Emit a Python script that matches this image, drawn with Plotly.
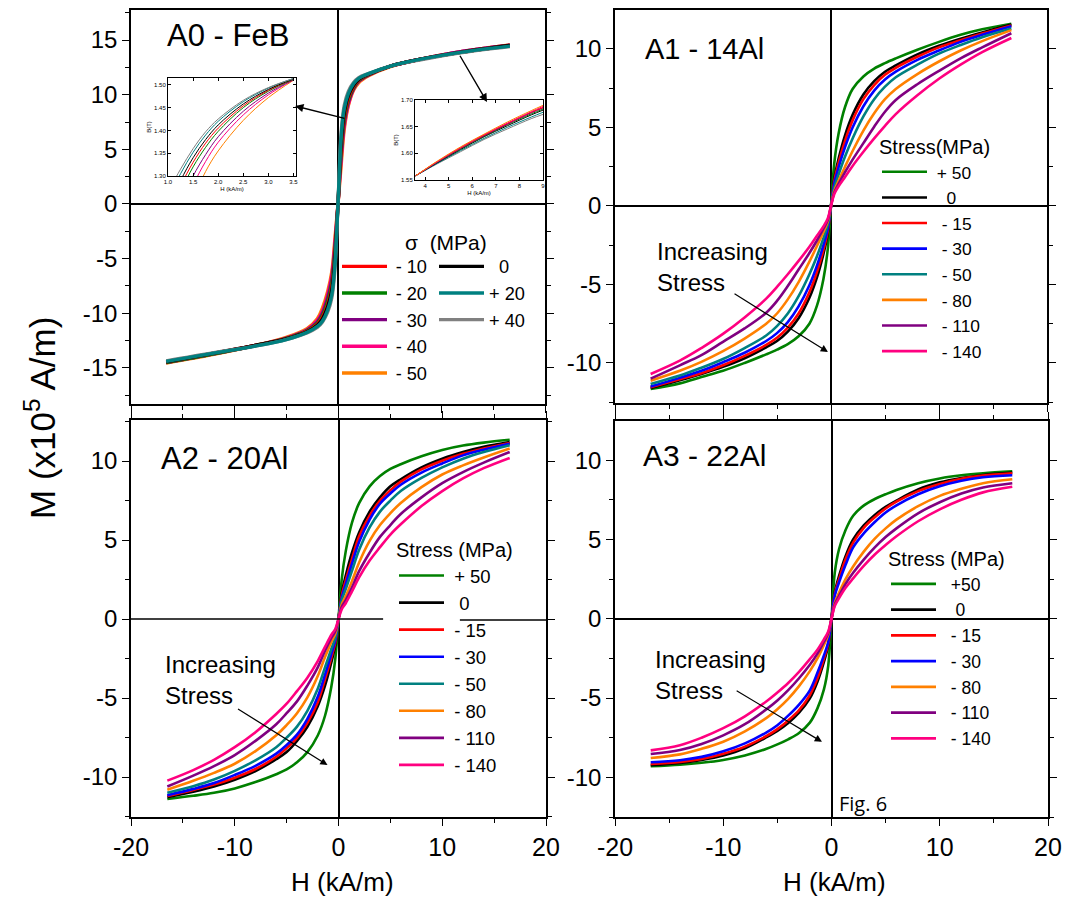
import plotly.graph_objects as go

# page is rendered with the default 8px body margin: the figure is shrunk by that amount
W, HT = 1077, 902
OFF = 8
FW, FH = W - OFF, HT - OFF

# ---------------- colours ----------------
C_GREEN, C_BLACK, C_RED, C_BLUE = "#008000", "#000000", "#ff0000", "#0000ff"
C_TEAL, C_ORANGE, C_PURPLE, C_PINK, C_GRAY = "#008080", "#ff8000", "#800080", "#ff0080", "#808080"

# ---------------- A0 - FeB (sigma in MPa) ----------------
H_A0 = [-16.6, -12, -8, -5, -3, -2, -1.5, -1, -0.6, -0.3, 0, 0.3, 0.6, 1, 1.5, 2, 3, 5, 8, 12, 16.6]
A0_m10 = [-14.45, -13.65, -12.95, -12.35, -11.65, -11.0, -10.35, -9.2, -7.6, -4.8, 0, 5.2, 8.0, 9.7, 10.75, 11.35, 11.88, 12.6, 13.25, 13.9, 14.5]
A0_m20 = [-14.5, -13.7, -12.95, -12.3, -11.6, -10.9, -10.2, -8.9, -7.3, -4.4, 0, 4.8, 7.7, 9.5, 10.65, 11.3, 11.85, 12.6, 13.25, 13.9, 14.5]
A0_m30 = [-14.5, -13.7, -12.95, -12.3, -11.55, -10.8, -10.0, -8.6, -6.9, -4.0, 0, 4.4, 7.4, 9.3, 10.55, 11.25, 11.82, 12.6, 13.25, 13.95, 14.52]
A0_m40 = [-14.52, -13.7, -12.95, -12.25, -11.5, -10.65, -9.8, -8.3, -6.5, -3.6, 0, 4.0, 7.1, 9.1, 10.5, 11.2, 11.8, 12.58, 13.25, 13.95, 14.53]
A0_m50 = [-14.55, -13.75, -12.95, -12.2, -11.4, -10.5, -9.5, -8.0, -6.2, -3.2, 0, 3.5, 6.8, 9.0, 10.4, 11.1, 11.75, 12.55, 13.25, 13.95, 14.55]
A0_0 = [-14.45, -13.65, -12.95, -12.35, -11.7, -11.1, -10.5, -9.4, -7.9, -5.1, 0, 5.6, 8.3, 9.9, 10.85, 11.4, 11.9, 12.6, 13.25, 13.9, 14.5]
A0_p20 = [-14.4, -13.65, -13.0, -12.4, -11.75, -11.2, -10.7, -9.7, -8.3, -5.6, 0, 6.1, 8.7, 10.1, 11.0, 11.5, 11.95, 12.6, 13.25, 13.9, 14.45]
A0_p40 = [-14.35, -13.6, -13.0, -12.4, -11.8, -11.3, -10.8, -9.9, -8.6, -6.0, 0, 6.5, 9.0, 10.3, 11.1, 11.55, 11.95, 12.6, 13.2, 13.85, 14.4]

# inset 1 (B in T vs H in kA/m)
H_IN1 = [1.0, 1.25, 1.5, 1.75, 2.0, 2.5, 3.0, 3.5]
IN1_m10 = [1.215, 1.278, 1.33, 1.372, 1.405, 1.454, 1.488, 1.513]
IN1_m20 = [1.20, 1.265, 1.32, 1.363, 1.398, 1.45, 1.486, 1.512]
IN1_m30 = [1.17, 1.24, 1.30, 1.347, 1.386, 1.442, 1.482, 1.511]
IN1_m40 = [1.14, 1.215, 1.28, 1.332, 1.374, 1.434, 1.478, 1.511]
IN1_m50 = [1.10, 1.18, 1.25, 1.31, 1.355, 1.422, 1.472, 1.51]
IN1_0 = [1.23, 1.29, 1.34, 1.38, 1.412, 1.458, 1.49, 1.513]
IN1_p20 = [1.25, 1.305, 1.352, 1.39, 1.42, 1.463, 1.493, 1.514]
IN1_p40 = [1.265, 1.315, 1.36, 1.397, 1.425, 1.466, 1.494, 1.514]

# inset 2
H_IN2 = [3.6, 4.5, 5.5, 6.5, 7.5, 8.5, 9.0]
IN2_m10 = [1.558, 1.584, 1.610, 1.634, 1.656, 1.677, 1.686]
IN2_m20 = [1.558, 1.583, 1.608, 1.632, 1.654, 1.674, 1.683]
IN2_m30 = [1.558, 1.583, 1.609, 1.633, 1.655, 1.676, 1.685]
IN2_m40 = [1.558, 1.584, 1.611, 1.635, 1.657, 1.678, 1.688]
IN2_m50 = [1.558, 1.585, 1.612, 1.636, 1.659, 1.680, 1.690]
IN2_0 = [1.558, 1.582, 1.607, 1.631, 1.652, 1.672, 1.681]
IN2_p20 = [1.558, 1.581, 1.605, 1.628, 1.649, 1.668, 1.677]
IN2_p40 = [1.558, 1.580, 1.603, 1.626, 1.646, 1.665, 1.673]

# ---------------- A1 - 14Al ----------------
H_A1 = [-16.7, -14, -12, -10, -8, -6, -5, -4, -3, -2, -1.3, -0.7, -0.3, 0,
        0.3, 0.7, 1.3, 2, 3, 4, 5, 6, 8, 10, 12, 14, 16.7]
A1_p50 = [-11.66, -11.3, -10.9, -10.5, -10.0, -9.45, -9.15, -8.8, -8.3, -7.5, -6.35, -4.65, -2.75, 0,
          2.7, 4.6, 6.3, 7.45, 8.25, 8.75, 9.1, 9.4, 9.95, 10.45, 10.9, 11.25, 11.6]
A1_0 = [-11.6, -11.1, -10.7, -10.25, -9.7, -9.0, -8.6, -8.0, -7.15, -5.85, -4.55, -3.05, -1.75, 0,
        1.7, 3.0, 4.5, 5.8, 7.1, 7.95, 8.55, 8.95, 9.65, 10.2, 10.65, 11.05, 11.55]
A1_m15 = [-11.55, -11.03, -10.65, -10.15, -9.55, -8.85, -8.4, -7.75, -6.85, -5.5, -4.2, -2.8, -1.6, 0,
          1.55, 2.75, 4.15, 5.45, 6.8, 7.7, 8.35, 8.8, 9.5, 10.1, 10.55, 10.98, 11.5]
A1_m30 = [-11.5, -10.95, -10.5, -9.95, -9.35, -8.6, -8.1, -7.4, -6.4, -5.05, -3.8, -2.5, -1.45, 0,
          1.4, 2.45, 3.75, 5.0, 6.35, 7.35, 8.05, 8.55, 9.3, 9.9, 10.45, 10.9, 11.45]
A1_m50 = [-11.34, -10.8, -10.3, -9.75, -9.05, -8.25, -7.65, -6.85, -5.75, -4.35, -3.2, -2.05, -1.2, 0,
          1.15, 2.0, 3.15, 4.3, 5.7, 6.8, 7.6, 8.2, 9.0, 9.7, 10.25, 10.75, 11.3]
A1_m80 = [-11.13, -10.5, -9.93, -9.25, -8.45, -7.5, -6.85, -5.95, -4.85, -3.55, -2.55, -1.65, -1.0, 0,
          0.95, 1.6, 2.5, 3.5, 4.8, 5.9, 6.8, 7.45, 8.4, 9.2, 9.9, 10.5, 11.2]
A1_m110 = [-11.0, -10.15, -9.5, -8.65, -7.8, -6.8, -6.05, -5.1, -4.05, -3.0, -2.2, -1.45, -0.9, 0,
           0.85, 1.4, 2.15, 2.95, 4.0, 5.05, 6.0, 6.75, 7.75, 8.6, 9.4, 10.1, 11.0]
A1_m140 = [-10.7, -9.85, -9.05, -8.15, -7.1, -5.9, -5.15, -4.35, -3.5, -2.6, -1.9, -1.3, -0.8, 0,
           0.75, 1.25, 1.85, 2.55, 3.45, 4.3, 5.1, 5.85, 7.05, 8.1, 9.0, 9.8, 10.7]

# ---------------- A2 - 20Al ----------------
H_A2 = [-16.5, -14, -12, -10, -8, -6, -5, -4, -3, -2, -1.3, -0.7, -0.3, 0,
        0.3, 0.7, 1.3, 2, 3, 4, 5, 6, 8, 10, 12, 14, 16.5]
A2_p50 = [-11.39, -11.19, -11.0, -10.72, -10.32, -9.82, -9.52, -9.07, -8.42, -7.37, -6.12, -4.32, -2.47, 0,
          2.45, 4.3, 6.1, 7.35, 8.4, 9.05, 9.5, 9.8, 10.3, 10.7, 10.98, 11.17, 11.35]
A2_0 = [-11.28, -10.93, -10.6, -10.17, -9.62, -8.87, -8.42, -7.72, -6.82, -5.52, -4.22, -2.77, -1.62, 0,
        1.6, 2.75, 4.2, 5.5, 6.8, 7.7, 8.4, 8.85, 9.6, 10.15, 10.57, 10.9, 11.2]
A2_m15 = [-11.2, -10.82, -10.48, -10.04, -9.49, -8.72, -8.17, -7.52, -6.57, -5.27, -3.82, -2.47, -1.47, 0,
          1.45, 2.45, 3.8, 5.25, 6.55, 7.5, 8.15, 8.7, 9.47, 10.02, 10.46, 10.8, 11.15]
A2_m30 = [-11.15, -10.75, -10.38, -9.87, -9.29, -8.52, -7.97, -7.32, -6.32, -4.92, -3.52, -2.22, -1.32, 0,
          1.3, 2.2, 3.5, 4.9, 6.3, 7.3, 7.95, 8.5, 9.27, 9.85, 10.36, 10.72, 11.1]
A2_m50 = [-11.0, -10.58, -10.16, -9.61, -8.94, -8.11, -7.51, -6.81, -5.81, -4.41, -3.06, -1.91, -1.16, 0,
          1.15, 1.9, 3.05, 4.4, 5.8, 6.8, 7.5, 8.1, 8.93, 9.6, 10.15, 10.57, 11.0]
A2_m80 = [-10.8, -10.24, -9.74, -9.16, -8.36, -7.36, -6.71, -5.96, -4.96, -3.61, -2.41, -1.46, -0.91, 0,
          0.9, 1.45, 2.4, 3.6, 4.95, 5.95, 6.7, 7.35, 8.35, 9.15, 9.73, 10.23, 10.8]
A2_m110 = [-10.6, -9.91, -9.31, -8.61, -7.71, -6.66, -5.96, -5.21, -4.21, -3.06, -2.01, -1.21, -0.76, 0,
           0.75, 1.2, 2.0, 3.05, 4.2, 5.2, 5.95, 6.65, 7.7, 8.6, 9.3, 9.9, 10.57]
A2_m140 = [-10.23, -9.56, -8.91, -8.11, -7.16, -6.01, -5.36, -4.56, -3.71, -2.66, -1.76, -1.01, -0.61, 0,
           0.6, 1.0, 1.75, 2.65, 3.7, 4.55, 5.35, 6.0, 7.15, 8.1, 8.9, 9.55, 10.2]

# ---------------- A3 - 22Al ----------------
H_A3 = [-16.7, -14, -12, -10, -8, -6, -5, -4, -3, -2, -1.3, -0.7, -0.3, 0,
        0.3, 0.7, 1.3, 2, 3, 4, 5, 6, 8, 10, 12, 14, 16.7]
A3_p50 = [-9.3, -9.2, -9.08, -8.9, -8.62, -8.2, -7.92, -7.6, -7.2, -6.55, -5.65, -4.45, -2.95, 0,
          2.9, 4.4, 5.6, 6.5, 7.15, 7.55, 7.85, 8.12, 8.55, 8.85, 9.05, 9.18, 9.3]
A3_0 = [-9.24, -9.09, -8.9, -8.62, -8.17, -7.47, -7.07, -6.57, -5.92, -5.02, -3.97, -2.72, -1.67, 0,
        1.65, 2.7, 3.95, 5.0, 5.9, 6.55, 7.05, 7.45, 8.15, 8.6, 8.88, 9.07, 9.22]
A3_m15 = [-9.16, -9.03, -8.84, -8.51, -8.06, -7.39, -6.96, -6.41, -5.76, -4.81, -3.76, -2.51, -1.56, 0,
          1.55, 2.5, 3.75, 4.8, 5.75, 6.4, 6.95, 7.38, 8.05, 8.5, 8.83, 9.03, 9.18]
A3_m30 = [-9.05, -8.92, -8.71, -8.36, -7.86, -7.16, -6.71, -6.11, -5.41, -4.51, -3.41, -2.31, -1.46, 0,
          1.45, 2.3, 3.4, 4.5, 5.4, 6.1, 6.7, 7.15, 7.85, 8.35, 8.7, 8.92, 9.05]
A3_m80 = [-8.78, -8.55, -8.2, -7.75, -7.1, -6.25, -5.7, -5.05, -4.25, -3.3, -2.5, -1.65, -1.0, 0,
          1.0, 1.65, 2.5, 3.3, 4.25, 5.05, 5.7, 6.25, 7.1, 7.75, 8.2, 8.55, 8.8]
A3_m110 = [-8.53, -8.28, -7.9, -7.35, -6.65, -5.7, -5.15, -4.5, -3.75, -2.9, -2.2, -1.45, -0.9, 0,
           0.9, 1.45, 2.2, 2.9, 3.75, 4.5, 5.15, 5.7, 6.65, 7.35, 7.9, 8.28, 8.55]
A3_m140 = [-8.3, -7.97, -7.5, -6.9, -6.15, -5.2, -4.65, -4.05, -3.35, -2.55, -1.95, -1.3, -0.8, 0,
           0.8, 1.3, 1.95, 2.55, 3.35, 4.05, 4.65, 5.2, 6.15, 6.9, 7.5, 7.97, 8.32]

X_TICKS = [-20, -10, 0, 10, 20]
X_TICKTEXT = ["-20", "-10", "0", "10", "20"]
Y_TICKS_A0 = [-15, -10, -5, 0, 5, 10, 15]
Y_TICKTEXT_A0 = ["-15", "-10", "-5", "0", "5", "10", "15"]
Y_TICKS = [-10, -5, 0, 5, 10]
Y_TICKTEXT = ["-10", "-5", "0", "5", "10"]

NB = "\u00a0"

fig = go.Figure()

FONT = "Arial, Liberation Sans, sans-serif"


def add_curve(x, y, color, name, xa, ya, legend=None, width=2.6, rank=None, show=True):
    fig.add_trace(go.Scatter(
        x=x, y=y, mode="lines", name=name,
        line=dict(color=color, width=width, shape="spline", smoothing=1.0),
        xaxis=xa, yaxis=ya, showlegend=show and legend is not None,
        legend=legend if legend else "legend", legendrank=rank if rank else 1000,
        hoverinfo="skip"))


# ---- A0 main curves (drawing order bottom->top) ----
a0 = [
    (A0_m50, C_ORANGE, "\u2009- 50", "legend4", 5),
    (A0_m40, C_PINK, "\u2009- 40", "legend4", 4),
    (A0_m30, C_PURPLE, "\u2009- 30", "legend4", 3),
    (A0_m20, C_GREEN, "\u2009- 20", "legend4", 2),
    (A0_m10, C_RED, "\u2009- 10", "legend4", 1),
    (A0_0, C_BLACK, NB + NB + "0", "legend5", 1),
    (A0_p40, C_GRAY, "+ 40", "legend5", 3),
    (A0_p20, C_TEAL, "+ 20", "legend5", 2),
]
for y, c, n, lg, r in a0:
    add_curve(H_A0, y, c, n, "x", "y", legend=lg, width=3.4, rank=r)

# ---- A0 insets ----
in1 = [(IN1_m50, C_ORANGE), (IN1_m40, C_PINK), (IN1_m30, C_PURPLE), (IN1_m20, C_GREEN),
       (IN1_m10, C_RED), (IN1_0, C_BLACK), (IN1_p20, C_TEAL), (IN1_p40, C_GRAY)]
for y, c in in1:
    add_curve(H_IN1, y, c, "", "x5", "y5", width=1.0, show=False)
in2 = [(IN2_p40, C_GRAY), (IN2_p20, C_TEAL), (IN2_0, C_BLACK), (IN2_m20, C_GREEN),
       (IN2_m30, C_PURPLE), (IN2_m10, C_RED), (IN2_m40, C_PINK), (IN2_m50, C_ORANGE)]
for y, c in in2:
    add_curve(H_IN2, y, c, "", "x6", "y6", width=1.0, show=False)

# ---- A1 ----
for y, c, n in [(A1_p50, C_GREEN, NB + "+ 50"), (A1_0, C_BLACK, NB + NB + NB + "0"),
                (A1_m15, C_RED, NB + NB + "- 15"), (A1_m30, C_BLUE, NB + NB + "- 30"),
                (A1_m50, C_TEAL, NB + NB + "- 50"), (A1_m80, C_ORANGE, NB + NB + "- 80"),
                (A1_m110, C_PURPLE, NB + NB + "- 110"), (A1_m140, C_PINK, NB + NB + "- 140")]:
    add_curve(H_A1, y, c, n, "x2", "y2", legend="legend")

# ---- A2 ----
for y, c, n in [(A2_p50, C_GREEN, NB + "+ 50"), (A2_0, C_BLACK, NB + NB + "0"),
                (A2_m15, C_RED, NB + "- 15"), (A2_m30, C_BLUE, NB + "- 30"),
                (A2_m50, C_TEAL, NB + "- 50"), (A2_m80, C_ORANGE, NB + "- 80"),
                (A2_m110, C_PURPLE, NB + "- 110"), (A2_m140, C_PINK, NB + "- 140")]:
    add_curve(H_A2, y, c, n, "x3", "y3", legend="legend2")

# ---- A3 ----
for y, c, n in [(A3_p50, C_GREEN, NB + NB + "+50"), (A3_0, C_BLACK, NB + NB + NB + "0"),
                (A3_m15, C_RED, NB + NB + "- 15"), (A3_m30, C_BLUE, NB + NB + "- 30"),
                (A3_m80, C_ORANGE, NB + NB + "- 80"),
                (A3_m110, C_PURPLE, NB + NB + "- 110"), (A3_m140, C_PINK, NB + NB + "- 140")]:
    add_curve(H_A3, y, c, n, "x4", "y4", legend="legend3")


def px_x(p):
    return (p - OFF) / FW


def px_y(p):
    return 1 - (p - OFF) / FH


def xax(d0, d1, anchor, labels):
    return dict(domain=[px_x(d0), px_x(d1)], anchor=anchor, range=[-20, 20], automargin=False,
                tickvals=X_TICKS, ticktext=X_TICKTEXT, showticklabels=labels,
                showline=True, linecolor="black", linewidth=1.5, mirror="allticks",
                ticks="outside", ticklen=7, tickwidth=1.3, tickcolor="black",
                minor=dict(dtick=5, ticks="outside", ticklen=4, tickwidth=1.2, tickcolor="black"),
                showgrid=False, zeroline=True, zerolinecolor="black", zerolinewidth=1.6,
                tickfont=dict(family=FONT, size=25, color="black"))


def yax(d0, d1, anchor, rng, vals, texts, zl=True):
    return dict(domain=[px_y(d1), px_y(d0)], anchor=anchor, range=rng, automargin=False,
                tickvals=vals, ticktext=texts,
                showline=True, linecolor="black", linewidth=1.5, mirror="allticks",
                ticks="outside", ticklen=7, tickwidth=1.3, tickcolor="black",
                minor=dict(dtick=2.5, tick0=0, ticks="outside", ticklen=4, tickwidth=1.2, tickcolor="black"),
                showgrid=False, zeroline=zl, zerolinecolor="black", zerolinewidth=1.6,
                tickfont=dict(family=FONT, size=24, color="black"))


def inset_ax(d0, d1, anchor, rng, vals, texts, title, is_y):
    dom = [px_y(d1), px_y(d0)] if is_y else [px_x(d0), px_x(d1)]
    return dict(domain=dom, anchor=anchor, range=rng, tickvals=vals, ticktext=texts, automargin=False,
                showline=True, linecolor="black", linewidth=1, mirror="allticks",
                ticks="inside", ticklen=3, tickwidth=0.8, tickcolor="black",
                showgrid=False, zeroline=False,
                tickfont=dict(family=FONT, size=6, color="black"),
                title=dict(text=title, font=dict(family=FONT, size=6, color="black"), standoff=2))


def legend_cfg(x, y, title, size):
    d = dict(x=px_x(x), y=px_y(y), xanchor="left", yanchor="top", bgcolor="rgba(0,0,0,0)",
             borderwidth=0, font=dict(family=FONT, size=size, color="black"), itemwidth=45,
             tracegroupgap=0, traceorder="normal")
    if title is not None:
        d["title"] = dict(text=title, font=dict(family=FONT, size=20, color="black"))
    return d


fig.update_layout(
    width=FW, height=FH, margin=dict(l=0, r=0, t=0, b=0, autoexpand=False),
    paper_bgcolor="white", plot_bgcolor="white",
    xaxis=xax(131, 545, "y", False),
    yaxis=yax(10, 404, "x", [-18.3, 17.75], Y_TICKS_A0, Y_TICKTEXT_A0),
    xaxis2=xax(615, 1047, "y2", False),
    yaxis2=yax(10, 403, "x2", [-12.55, 12.48], Y_TICKS, Y_TICKTEXT),
    xaxis3=xax(131, 546, "y3", True),
    yaxis3=yax(420, 817, "x3", [-12.53, 12.6], Y_TICKS, Y_TICKTEXT, zl=False),
    xaxis4=xax(615, 1048, "y4", True),
    yaxis4=yax(421, 817, "x4", [-12.5, 12.47], Y_TICKS, Y_TICKTEXT),
    xaxis5=inset_ax(168, 296, "y5", [1.0, 3.55], [1.0, 1.5, 2.0, 2.5, 3.0, 3.5],
                    ["1.0", "1.5", "2.0", "2.5", "3.0", "3.5"], "H (kA/m)", False),
    yaxis5=inset_ax(78, 176, "x5", [1.30, 1.515], [1.30, 1.35, 1.40, 1.45, 1.50],
                    ["1.30", "1.35", "1.40", "1.45", "1.50"], "B(T)", True),
    xaxis6=inset_ax(415, 543, "y6", [3.57, 9.0], [4, 5, 6, 7, 8, 9],
                    ["4", "5", "6", "7", "8", "9"], "H (kA/m)", False),
    yaxis6=inset_ax(100, 180, "x6", [1.55, 1.70], [1.55, 1.60, 1.65, 1.70],
                    ["1.55", "1.60", "1.65", "1.70"], "B(T)", True),
    legend=legend_cfg(877, 128, "Stress(MPa)", 17.4),
    legend2=legend_cfg(394, 531, "Stress (MPa)", 18.5),
    legend3=legend_cfg(886, 540, "Stress (MPa)", 17.5),
    legend4=legend_cfg(337, 248, None, 18.2),
    legend5=legend_cfg(434, 248, None, 18.2),
    showlegend=True,
)

# broken zero line in A2 (as in the original, interrupted by the legend)
fig.add_shape(type="line", xref="x3", yref="y3", x0=-20, x1=4.3, y0=0, y1=0,
              line=dict(color="black", width=1.6))
fig.add_shape(type="line", xref="x3", yref="y3", x0=11.7, x1=20, y0=-0.06, y1=-0.06,
              line=dict(color="black", width=1.6))

ann = []
# panel labels
for txt, xr, yr, x, y, s in [("A0 - FeB", "x", "y", -16.7, 15.4, 31),
                             ("A1 - 14Al", "x2", "y2", -17.4, 10.0, 29),
                             ("A2 - 20Al", "x3", "y3", -17.3, 10.15, 31),
                             ("A3 - 22Al", "x4", "y4", -17.6, 10.3, 30)]:
    ann.append(dict(text=txt, xref=xr, yref=yr, x=x, y=y, xanchor="left", yanchor="middle",
                    showarrow=False, font=dict(family=FONT, size=s, color="black")))

# "Increasing Stress" labels with arrows
for xr, yr, tx, ty, hx, hy, ax_, ay_ in [("x2", "y2", -16.3, -1.9, -0.28, -9.3, -9.07, -5.54),
                                         ("x3", "y3", -16.9, -1.9, -1.06, -9.24, -9.83, -5.63),
                                         ("x4", "y4", -16.5, -1.6, -0.88, -7.76, -8.9, -4.48)]:
    ann.append(dict(text="Increasing<br>Stress", xref=xr, yref=yr, x=tx, y=ty, xanchor="left",
                    yanchor="top", align="left", showarrow=False,
                    font=dict(family=FONT, size=24, color="black")))
    ann.append(dict(text="", xref=xr, yref=yr, x=hx, y=hy, axref=xr, ayref=yr, ax=ax_, ay=ay_,
                    showarrow=True, arrowhead=2, arrowsize=1.2, arrowwidth=1.2, arrowcolor="black"))

# inset arrows in A0
ann.append(dict(text="", xref="x", yref="y", x=-4.15, y=8.97, axref="x", ayref="y", ax=0.77, ay=7.8,
                showarrow=True, arrowhead=2, arrowsize=1.2, arrowwidth=1.4, arrowcolor="black"))
ann.append(dict(text="", xref="x", yref="y", x=14.4, y=9.33, axref="x", ayref="y", ax=11.7, ay=13.7,
                showarrow=True, arrowhead=2, arrowsize=1.2, arrowwidth=1.4, arrowcolor="black"))

# legend title of A0
ann.append(dict(text="\u03c3  (MPa)", xref="paper", yref="paper", x=px_x(403), y=px_y(243),
                xanchor="left", yanchor="middle", showarrow=False,
                font=dict(family=FONT, size=21, color="black")))

# axis titles
ann.append(dict(text="H (kA/m)", xref="paper", yref="paper", x=px_x(342), y=px_y(882),
                xanchor="center", yanchor="middle",
                showarrow=False, font=dict(family=FONT, size=26, color="black")))
ann.append(dict(text="H (kA/m)", xref="paper", yref="paper", x=px_x(834), y=px_y(882),
                xanchor="center", yanchor="middle",
                showarrow=False, font=dict(family=FONT, size=26, color="black")))
ann.append(dict(text="M (x10<sup>5</sup> A/m)", xref="paper", yref="paper", x=px_x(40), y=px_y(418),
                xanchor="center", yanchor="middle",
                textangle=-90, showarrow=False, font=dict(family=FONT, size=35, color="black")))
ann.append(dict(text="Fig. 6", xref="paper", yref="paper", x=px_x(837), y=px_y(803), xanchor="left",
                yanchor="middle",
                showarrow=False, font=dict(family="Open Sans, sans-serif", size=20, color="black")))

fig.update_layout(annotations=ann)

fig.write_html("out.html")
